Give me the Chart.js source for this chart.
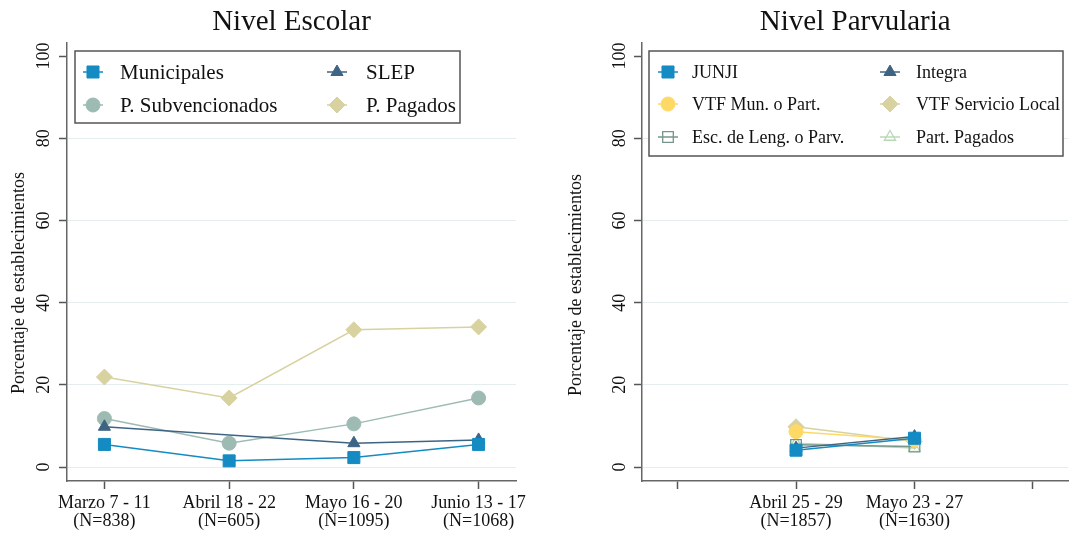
<!DOCTYPE html>
<html lang="es">
<head>
<meta charset="UTF-8" />
<title>Nivel Escolar / Nivel Parvularia</title>
<script src="https://cdn.jsdelivr.net/npm/chart.js"></script>
<style>
    body { margin: 0; background: #ffffff; width: 1078px; height: 535px; overflow: hidden; position: relative; }
    .panel { position: absolute; top: 0; height: 535px; }
    #left { left: 0; width: 540px; }
    #right { left: 540px; width: 538px; }
</style>
</head>
<body>
<div class="panel" id="left"><canvas id="escolar"></canvas></div>
<div class="panel" id="right"><canvas id="parvularia"></canvas></div>

<script>
// ---- data ----
const escolarLabels = [['Marzo 7 - 11', '(N=838)'], ['Abril 18 - 22', '(N=605)'], ['Mayo 16 - 20', '(N=1095)'], ['Junio 13 - 17', '(N=1068)']];
const municipales = [5.5, 1.5, 2.3, 5.5];
const slep = [9.8, null, 5.8, 6.6];
const pSubvencionados = [11.8, 5.8, 10.5, 16.8];
const pPagados = [21.9, 16.8, 33.4, 34.1];

const parvulariaLabels = ['', ['Abril 25 - 29', '(N=1857)'], ['Mayo 23 - 27', '(N=1630)'], ''];
const junji = [null, 4.1, 7.0, null];
const integra = [null, 4.6, 7.4, null];
const vtfMun = [null, 8.6, 6.6, null];
const vtfLocal = [null, 9.8, 6.2, null];
const escLeng = [null, 5.4, 5.0, null];
const partPagados = [null, 5.8, 4.6, null];

const yTicks = [0, 20, 40, 60, 80, 100];
const yTitle = 'Porcentaje de establecimientos';

const SERIF = "'Liberation Serif', 'DejaVu Serif', serif";
const BLUE = '#148bc2', SLATE = '#3e6484', TEAL = '#9dbbb3', KHAKI = '#d8d2a0';
const YELLOW = '#ffd966', GREYGREEN = '#76968a', LIGHTGREEN = '#b8d8b6';

function toPoints(arr) {
    return arr.map((v, i) => ({ x: i + 1, y: v }));
}

function series(label, arr, color, style, radius, hollow) {
    return {
        label: label,
        data: toPoints(arr),
        borderColor: color,
        backgroundColor: color,
        pointBackgroundColor: hollow ? 'rgba(255,255,255,0)' : color,
        pointBorderColor: color,
        pointBorderWidth: hollow ? 1.3 : 1,
        pointStyle: style,
        pointRadius: radius,
        borderWidth: 1.5,
        spanGaps: true,
        tension: 0
    };
}

// rotated y tick labels, y title and boxed two-column legend
const stataPlugin = {
    id: 'stata',
    afterDraw(chart, args, opts) {
        const ctx = chart.ctx;
        const y = chart.scales.y;
        ctx.save();
        ctx.fillStyle = '#111';
        ctx.font = '18px ' + SERIF;
        ctx.textAlign = 'center';
        ctx.textBaseline = 'middle';
        yTicks.forEach(v => {
            ctx.save();
            ctx.translate(opts.tickX, y.getPixelForValue(v));
            ctx.rotate(-Math.PI / 2);
            ctx.fillText(String(v), 0, 0);
            ctx.restore();
        });
        ctx.save();
        ctx.translate(opts.titleX, opts.titleY);
        ctx.rotate(-Math.PI / 2);
        ctx.fillText(yTitle, 0, 0);
        ctx.restore();

        // legend box
        const b = opts.box;
        ctx.fillStyle = '#fff';
        ctx.fillRect(b.x, b.y, b.w, b.h);
        ctx.strokeStyle = '#555';
        ctx.lineWidth = 1.5;
        ctx.strokeRect(b.x, b.y, b.w, b.h);
        ctx.font = opts.font + 'px ' + SERIF;
        ctx.textAlign = 'left';
        chart.data.datasets.forEach((ds, i) => {
            const col = i % 2, row = Math.floor(i / 2);
            const mx = opts.markerX[col], ty = opts.rowY[row];
            ctx.strokeStyle = ds.borderColor;
            ctx.lineWidth = 1.5;
            ctx.beginPath();
            ctx.moveTo(mx - 10, ty);
            ctx.lineTo(mx + 10, ty);
            ctx.stroke();
            ctx.fillStyle = ds.pointBackgroundColor;
            ctx.strokeStyle = ds.pointBorderColor;
            ctx.lineWidth = ds.pointBorderWidth;
            Chart.helpers.drawPoint(ctx, {
                pointStyle: ds.pointStyle, radius: ds.pointRadius, rotation: 0, borderWidth: ds.pointBorderWidth
            }, mx, ty);
            ctx.fillStyle = '#111';
            ctx.fillText(ds.label, opts.textX[col], ty + 1);
        });
        ctx.restore();
    }
};

function buildOptions(title, labels, yWidth, rightPad, legend) {
    return {
        responsive: true,
        maintainAspectRatio: false,
        animation: false,
        layout: { padding: { left: 0, right: rightPad, top: 0, bottom: 0 } },
        plugins: {
            legend: { display: false },
            tooltip: { enabled: false },
            title: {
                display: true,
                text: title,
                fullSize: false,
                color: '#111',
                font: { family: SERIF, size: 29, weight: 'normal', lineHeight: 1.1 },
                padding: { top: 6, bottom: 5 }
            },
            stata: legend
        },
        scales: {
            x: {
                type: 'linear',
                min: 0.7,
                max: 4.3,
                afterBuildTicks: s => { s.ticks = [1, 2, 3, 4].map(v => ({ value: v })); },
                afterFit: s => { s.height = 54; },
                border: { display: true, color: '#666', width: 1.5 },
                grid: { drawOnChartArea: false, tickLength: 8, tickColor: '#555', tickWidth: 1.5 },
                ticks: {
                    autoSkip: false,
                    maxRotation: 0,
                    padding: 5,
                    color: '#111',
                    font: { family: SERIF, size: 18, lineHeight: '18px' },
                    callback: v => labels[v - 1]
                }
            },
            y: {
                min: -3.4,
                max: 103.2,
                afterBuildTicks: s => { s.ticks = yTicks.map(v => ({ value: v })); },
                afterFit: s => { s.width = yWidth; },
                border: { display: true, color: '#666', width: 1.5 },
                grid: {
                    color: c => (c.tick && c.tick.value === 100) ? 'rgba(0,0,0,0)' : '#e4eeee',
                    tickColor: '#555',
                    tickWidth: 1.5,
                    tickLength: 8
                },
                ticks: { color: 'rgba(0,0,0,0)', font: { size: 16 } },
                title: { display: false }
            }
        }
    };
}

new Chart(document.getElementById('escolar'), {
    type: 'line',
    data: {
        datasets: [
            series('Municipales', municipales, BLUE, 'rect', 8.5, false),
            series('SLEP', slep, SLATE, 'triangle', 7, false),
            series('P. Subvencionados', pSubvencionados, TEAL, 'circle', 7, false),
            series('P. Pagados', pPagados, KHAKI, 'rectRot', 8, false)
        ]
    },
    options: buildOptions('Nivel Escolar', escolarLabels, 67, 24, {
        tickX: 44,
        titleX: 19,
        titleY: 283,
        box: { x: 75, y: 51, w: 385, h: 72 },
        markerX: [93, 337],
        textX: [120, 366],
        rowY: [72, 105],
        font: 21
    }),
    plugins: [stataPlugin]
});

new Chart(document.getElementById('parvularia'), {
    type: 'line',
    data: {
        datasets: [
            series('JUNJI', junji, BLUE, 'rect', 8.5, false),
            series('Integra', integra, SLATE, 'triangle', 7, false),
            series('VTF Mun. o Part.', vtfMun, YELLOW, 'circle', 7, false),
            series('VTF Servicio Local', vtfLocal, KHAKI, 'rectRot', 8, false),
            series('Esc. de Leng. o Parv.', escLeng, GREYGREEN, 'rect', 7.5, true),
            series('Part. Pagados', partPagados, LIGHTGREEN, 'triangle', 6.5, true)
        ]
    },
    options: buildOptions('Nivel Parvularia', parvulariaLabels, 102, 9, {
        tickX: 80,
        titleX: 36,
        titleY: 285,
        box: { x: 109, y: 51, w: 414, h: 105 },
        markerX: [128, 350],
        textX: [152, 376],
        rowY: [72, 104, 137],
        font: 18
    }),
    plugins: [stataPlugin]
});
</script>
</body>
</html>
